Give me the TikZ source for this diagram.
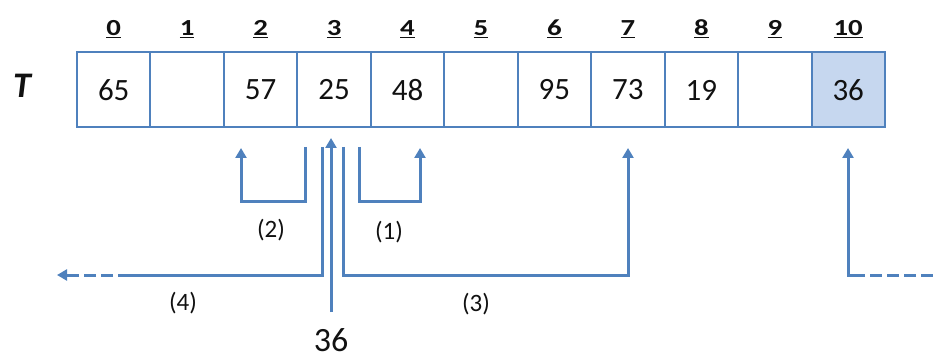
\documentclass[tikz,border=0pt]{standalone}
\usepackage{fontspec}
\setmainfont{Carlito}
\usepackage{graphicx}
\usetikzlibrary{arrows.meta}
\definecolor{ablue}{HTML}{4F81BD}
\definecolor{afill}{HTML}{C6D7EF}
\definecolor{txt}{HTML}{111111}
\newcommand{\idxtext}[1]{\scalebox{1.25}[1]{\underline{#1}}}
\begin{document}
\begin{tikzpicture}[x=1pt,y=-1pt,
  cell/.style={draw=ablue,line width=2pt,minimum width=73.45pt,minimum height=75pt,inner sep=0pt,text=txt,font=\fontsize{31}{33}\selectfont},
  idx/.style={anchor=base,text=txt,font=\bfseries\fontsize{23}{25}\selectfont},
  arr/.style={draw=ablue,line width=3pt,-{Triangle[width=11pt,length=10pt]}},
  ln/.style={draw=ablue,line width=3pt},
  dsh/.style={ln,dash pattern=on 12pt off 5pt},
  lab/.style={text=txt,font=\fontsize{25}{27}\selectfont}]
\useasboundingbox (0,0) rectangle (933,358);
% T label
\node[text=txt,font=\bfseries\itshape\fontsize{36}{38}\selectfont] (T) at (22,86) {T};
% cells
\node[cell] (c0) at ({77+73.45*0.5},90) {65};
\node[cell] (c1) at ({77+73.45*1.5},90) {};
\node[cell] (c2) at ({77+73.45*2.5},90) {57};
\node[cell] (c3) at ({77+73.45*3.5},90) {25};
\node[cell] (c4) at ({77+73.45*4.5},90) {48};
\node[cell] (c5) at ({77+73.45*5.5},90) {};
\node[cell] (c6) at ({77+73.45*6.5},90) {95};
\node[cell] (c7) at ({77+73.45*7.5},90) {73};
\node[cell] (c8) at ({77+73.45*8.5},90) {19};
\node[cell] (c9) at ({77+73.45*9.5},90) {};
\node[cell,fill=afill] (c10) at ({77+73.45*10.5},90) {36};
% indices
\foreach \i in {0,...,10}{
  \node[idx] (i\i) at ({77+73.45*(\i+0.5)},36) {\idxtext{\i}};
}
% incoming value
\node[text=txt,font=\fontsize{34}{36}\selectfont] (v) at (331,340) {36};
\coordinate (vin) at (331,312);
\coordinate (vt) at (331,138);
\draw[arr] (vin) -- (vt);
% probe (2)
\coordinate (a2s) at (305,147);
\coordinate (a2m) at (241,201);
\coordinate (a2e) at (241,148);
\draw[arr] (a2s) |- (a2m) -- (a2e);
% probe (1)
\coordinate (a1s) at (359,147);
\coordinate (a1m) at (420,201);
\coordinate (a1e) at (420,148);
\draw[arr] (a1s) |- (a1m) -- (a1e);
% probe (4)
\coordinate (a4s) at (322,147);
\coordinate (a4m) at (130,275);
\coordinate (a4e) at (57,275);
\draw[ln] (a4s) |- (a4m);
\draw[dsh,-{Triangle[width=11pt,length=10pt]}] (a4m) -- (a4e);
% probe (3)
\coordinate (a3s) at (343,147);
\coordinate (a3m) at (628,275);
\coordinate (a3e) at (628,148);
\draw[arr] (a3s) |- (a3m) -- (a3e);
% wrap-around
\coordinate (r0) at (933,275);
\coordinate (r1) at (860,275);
\coordinate (rc) at (848,275);
\coordinate (re) at (848,148);
\draw[dsh] (r0) -- (r1);
\draw[arr] (r1) -- (rc) -- (re);
% labels
\node[lab] (l2) at (271,230) {(2)};
\node[lab] (l1) at (389,232) {(1)};
\node[lab] (l4) at (183,303) {(4)};
\node[lab] (l3) at (476,304) {(3)};
\end{tikzpicture}
\end{document}
